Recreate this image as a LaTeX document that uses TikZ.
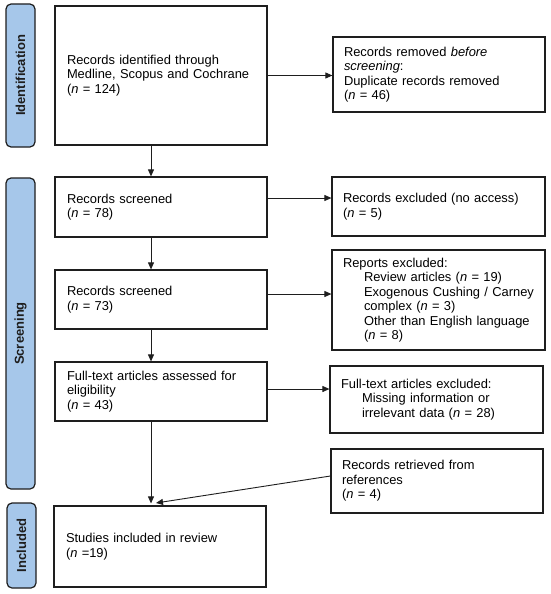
\documentclass[tikz,border=0pt]{standalone}
\usepackage{fontspec}
\setmainfont{Liberation Sans}
\usetikzlibrary{arrows.meta,calc}
\definecolor{sidefill}{RGB}{166,199,234}
\definecolor{lineclr}{RGB}{30,30,30}
\newcommand{\nn}{\textit{n}}
\begin{document}
\begin{tikzpicture}[x=1pt,y=-1pt,
  box/.style={draw=lineclr,line width=1.2pt,align=left,inner xsep=12pt,inner ysep=0pt,
    font=\fontsize{12.9}{14.5}\selectfont,text=black},
  sidebar/.style={draw=lineclr,line width=1.2pt,fill=sidefill,rounded corners=5pt,
    minimum width=29pt,inner sep=0pt},
  sidelabel/.style={rotate=90,font=\fontsize{13}{15}\selectfont\bfseries,text=lineclr},
  arr/.style={draw=lineclr,line width=0.9pt,-{Triangle[length=7pt,width=6pt]}}]
\useasboundingbox (0,0) rectangle (550,594);
\fill[white] (0,0) rectangle (550,594);

% side bars
\node[sidebar,minimum height=143pt] (s1) at (20.5,75.5) {};
\node[sidelabel] (s1l) at (s1.center) {Identification};
\node[sidebar,minimum height=311pt] (s2) at (20.5,333.5) {};
\node[sidelabel] (s2l) at (s2.center) {Screening};
\node[sidebar,minimum height=85pt] (s3) at (21.5,545.5) {};
\node[sidelabel] (s3l) at (s3.center) {Included};

% main column
\node[box,minimum width=212pt,minimum height=139pt,text width=188pt] (b1) at (161,75.5)
  {Records identified through\\Medline, Scopus and Cochrane\\(\nn{} = 124)};
\node[box,minimum width=212pt,minimum height=60pt,text width=188pt] (b2) at (161,207)
  {Records screened\\(\nn{} = 78)};
\node[box,minimum width=212pt,minimum height=59pt,text width=188pt] (b3) at (161,299.5)
  {Records screened\\(\nn{} = 73)};
\node[box,minimum width=212pt,minimum height=59pt,text width=188pt] (b4) at (161,391.5)
  {Full-text articles assessed for\\eligibility\\(\nn{} = 43)};
\node[box,minimum width=212pt,minimum height=81pt,text width=188pt] (b5) at (160,546.5)
  {Studies included in review\\(\nn{} =19)};

% right column
\node[box,inner xsep=11pt,minimum width=212pt,minimum height=75pt,text width=190pt] (r1) at (439,74.5)
  {Records removed \textit{before}\\\textit{screening}:\\Duplicate records removed\\(\nn{} = 46)};
\node[box,inner xsep=11pt,minimum width=213pt,minimum height=59pt,text width=191pt] (r2) at (438.5,206.5)
  {Records excluded (no access)\\(\nn{} = 5)};
\node[box,inner xsep=11pt,minimum width=213pt,minimum height=100pt,text width=191pt] (r3) at (438.5,300)
  {Reports excluded:\\
   \hspace*{21pt}Review articles (\nn{} = 19)\\
   \hspace*{21pt}Exogenous Cushing / Carney\\
   \hspace*{21pt}complex (\nn{} = 3)\\
   \hspace*{21pt}Other than English language\\
   \hspace*{21pt}(\nn{} = 8)};
\node[box,inner xsep=11pt,minimum width=213pt,minimum height=67pt,text width=191pt] (r4) at (436.5,399.5)
  {Full-text articles excluded:\\
   \hspace*{21pt}Missing information or\\
   \hspace*{21pt}irrelevant data (\nn{} = 28)};
\node[box,inner xsep=11pt,minimum width=212pt,minimum height=64pt,text width=190pt] (r5) at (437,481)
  {Records retrieved from\\references\\(\nn{} = 4)};

% helper coordinates
\coordinate (cx) at (151,0);
\coordinate (y2) at (0,198);
\coordinate (y3) at (0,294);
\coordinate (y4) at (0,389);
\coordinate (y5) at (0,476);
\coordinate (diagend) at (156,503);

% connectors
\draw[arr] (b1.south -| cx) -- (b2.north -| cx);
\draw[arr] (b2.south -| cx) -- (b3.north -| cx);
\draw[arr] (b3.south -| cx) -- (b4.north -| cx);
\draw[arr] (b4.south -| cx) -- ($(b5.north -| cx)+(0,-2)$);
\draw[arr] (b1.east) -- (b1.east -| r1.west);
\draw[arr] (y2 -| b2.east) -- (y2 -| r2.west);
\draw[arr] (y3 -| b3.east) -- (y3 -| r3.west);
\draw[arr] (y4 -| b4.east) -- (y4 -| r4.west);
\draw[arr] (y5 -| r5.west) -- (diagend);
\end{tikzpicture}
\end{document}
